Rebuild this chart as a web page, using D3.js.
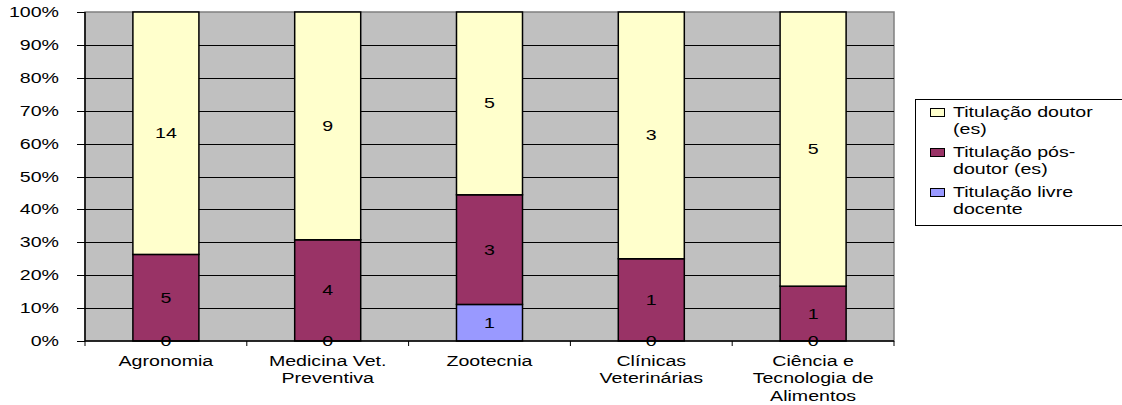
<!DOCTYPE html>
<html>
<head>
<meta charset="utf-8">
<script src="https://cdn.jsdelivr.net/npm/d3@7"></script>
<style>
  html, body { margin: 0; padding: 0; background: #fff; }
  svg { display: block; font-family: Arial, "Liberation Sans", sans-serif; }
</style>
</head>
<body>
<svg id="chart" width="1122" height="405"></svg>
<script>
// Departments (each label split into display lines)
const categories = ["Agronomia", "Medicina Vet. Preventiva", "Zootecnia", "Clínicas Veterinárias", "Ciência e Tecnologia de Alimentos"];
const categoryLines = [
  ["Agronomia"],
  ["Medicina Vet.", "Preventiva"],
  ["Zootecnia"],
  ["Clínicas", "Veterinárias"],
  ["Ciência e", "Tecnologia de", "Alimentos"]
];
// Counts per title, stacked bottom to top
const livreDocente = [0, 0, 1, 0, 0];
const posDoutor = [5, 4, 3, 1, 1];
const doutor = [14, 9, 5, 3, 5];
const yTicks = [0, 0.1, 0.2, 0.3, 0.4, 0.5, 0.6, 0.7, 0.8, 0.9, 1.0];

const seriesDefs = [
  { key: "livre", name: ["Titulação livre", "docente"], values: livreDocente, color: "#9999FF" },
  { key: "pos", name: ["Titulação pós-", "doutor (es)"], values: posDoutor, color: "#993366" },
  { key: "dout", name: ["Titulação doutor", "(es)"], values: doutor, color: "#FFFFCC" }
];

const FONT = 14;
const STRETCH = 1.4; // wide lettering used throughout

const svg = d3.select("#chart");
const plot = { left: 85, top: 12, right: 894, bottom: 341 };

const x = d3.scaleBand().domain(categories).range([plot.left, plot.right]).paddingInner(0).paddingOuter(0);
const y = d3.scaleLinear().domain([0, 1]).range([plot.bottom, plot.top]);
const barW = x.bandwidth() * 0.408;

// Draws wide text at (px, py); lines stack downward by lineH
function wideText(parent, px, py, lines, anchor, lineH, baselineShift) {
  const g = parent.append("g").attr("transform", `translate(${px},${py}) scale(${STRETCH},1)`);
  const t = g.append("text")
    .attr("text-anchor", anchor)
    .attr("font-size", FONT)
    .attr("fill", "#000");
  if (baselineShift) t.attr("dy", baselineShift);
  lines.forEach((line, j) => {
    t.append("tspan").attr("x", 0).attr("y", j * lineH).text(line);
  });
  return g;
}

// Plot background
svg.append("rect")
  .attr("x", plot.left).attr("y", plot.top)
  .attr("width", plot.right - plot.left).attr("height", plot.bottom - plot.top)
  .attr("fill", "#C0C0C0").attr("stroke", "#808080").attr("stroke-width", 1.5);

// Horizontal gridlines
svg.append("g").selectAll("line")
  .data(yTicks.filter(t => t > 0 && t < 1))
  .join("line")
  .attr("x1", plot.left).attr("x2", plot.right)
  .attr("y1", d => Math.round(y(d)) + 0.5).attr("y2", d => Math.round(y(d)) + 0.5)
  .attr("stroke", "#000").attr("stroke-width", 1);

// Stack the series as shares of each department's total
const rows = categories.map((c, i) => {
  const total = seriesDefs.reduce((s, d) => s + d.values[i], 0);
  const r = { cat: c };
  seriesDefs.forEach(d => { r[d.key] = d.values[i] / total; r[d.key + "_n"] = d.values[i]; });
  return r;
});
const stacked = d3.stack().keys(seriesDefs.map(d => d.key))(rows);

const barsG = svg.append("g");
stacked.forEach((layer, li) => {
  const def = seriesDefs[li];
  barsG.selectAll(null)
    .data(layer)
    .join("rect")
    .attr("x", d => x(d.data.cat) + (x.bandwidth() - barW) / 2)
    .attr("y", d => y(d[1]))
    .attr("width", barW)
    .attr("height", d => Math.max(0, y(d[0]) - y(d[1])))
    .attr("fill", def.color)
    .attr("stroke", "#000").attr("stroke-width", 1.5);
});

// Value labels centred in each segment
const labelsG = svg.append("g");
stacked.forEach((layer, li) => {
  const def = seriesDefs[li];
  layer.forEach(d => {
    wideText(labelsG, x(d.data.cat) + x.bandwidth() / 2, (y(d[0]) + y(d[1])) / 2,
      [String(d.data[def.key + "_n"])], "middle", 0, "0.36em");
  });
});

// Y axis: line, ticks and percentage labels
const yG = svg.append("g");
yG.append("line")
  .attr("x1", plot.left).attr("x2", plot.left)
  .attr("y1", plot.top).attr("y2", plot.bottom)
  .attr("stroke", "#000").attr("stroke-width", 1.5);
yG.selectAll("line.tick")
  .data(yTicks)
  .join("line")
  .attr("class", "tick")
  .attr("x1", plot.left - 8).attr("x2", plot.left)
  .attr("y1", d => Math.round(y(d)) + 0.5).attr("y2", d => Math.round(y(d)) + 0.5)
  .attr("stroke", "#000").attr("stroke-width", 1);
const pct = d3.format(".0%");
yTicks.forEach(t => {
  wideText(yG, 59, y(t), [pct(t)], "end", 0, "0.36em");
});

// X axis line with category boundary ticks
svg.append("line")
  .attr("x1", plot.left).attr("x2", plot.right)
  .attr("y1", plot.bottom).attr("y2", plot.bottom)
  .attr("stroke", "#000").attr("stroke-width", 1.5);
const bounds = categories.map(c => x(c)).concat([x(categories[categories.length - 1]) + x.bandwidth()]);
svg.append("g").selectAll("line")
  .data(bounds)
  .join("line")
  .attr("x1", d => d).attr("x2", d => d)
  .attr("y1", plot.bottom).attr("y2", plot.bottom + 5)
  .attr("stroke", "#000").attr("stroke-width", 1);

// Category labels
const catG = svg.append("g");
categories.forEach((c, i) => {
  wideText(catG, x(c) + x.bandwidth() / 2, 366, categoryLines[i], "middle", 17.5);
});

// Legend
const legend = svg.append("g");
legend.append("rect")
  .attr("x", 915.5).attr("y", 99.5).attr("width", 220).attr("height", 126)
  .attr("fill", "#fff").attr("stroke", "#000").attr("stroke-width", 1);
const legendOrder = [seriesDefs[2], seriesDefs[1], seriesDefs[0]];
const legendY = [117, 157, 197];
legendOrder.forEach((d, i) => {
  legend.append("rect")
    .attr("x", 930.5).attr("y", legendY[i] - 8.5).attr("width", 14).attr("height", 8)
    .attr("fill", d.color).attr("stroke", "#000").attr("stroke-width", 1);
  wideText(legend, 953, legendY[i], d.name, "start", 17.5);
});
</script>
</body>
</html>
